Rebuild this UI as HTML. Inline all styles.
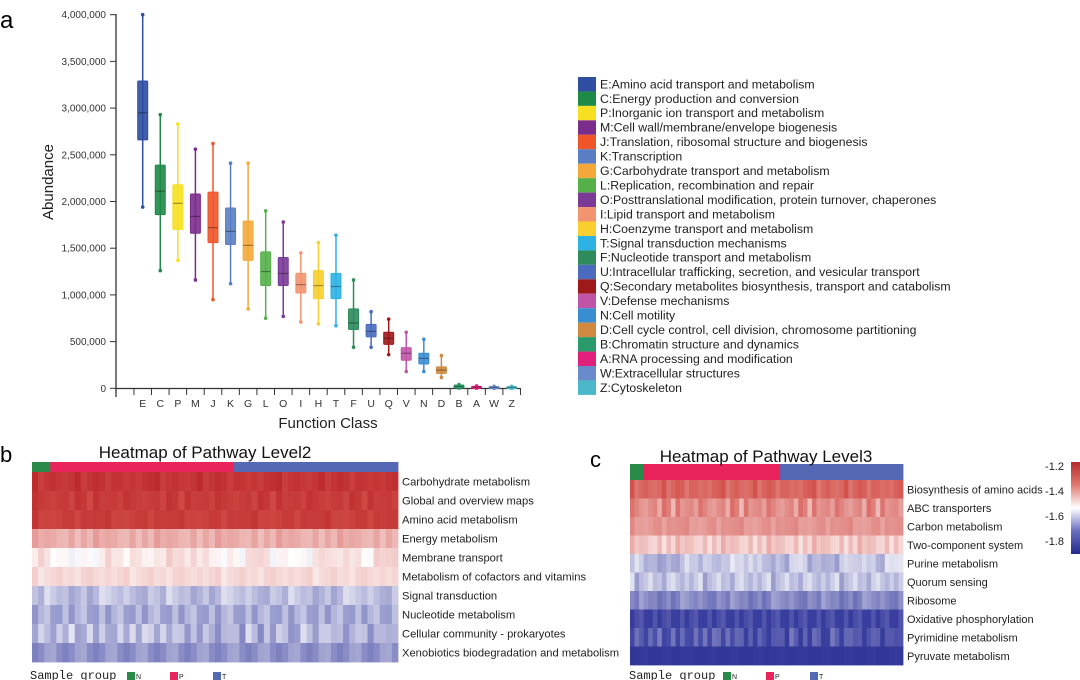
<!DOCTYPE html>
<html><head><meta charset="utf-8"><style>
html,body{margin:0;padding:0;background:#fff;}
svg{display:block;font-family:"Liberation Sans",sans-serif;}
</style></head><body>
<svg id="fig" width="1080" height="680" viewBox="0 0 1080 680">
<g id="panelA"></g>
<g id="legend"></g>
<g id="panelB"></g>
<g id="panelC"></g>
</svg>
<script>
// ---- Boxplot data ----
const classes = ["E","C","P","M","J","K","G","L","O","I","H","T","F","U","Q","V","N","D","B","A","W","Z"];
const whiskerHigh = [4000000,2930000,2830000,2560000,2620000,2410000,2410000,1900000,1780000,1450000,1560000,1640000,1160000,820000,740000,600000,525000,350000,40000,25000,22000,22000];
const q3Values = [3290000,2390000,2180000,2080000,2100000,1930000,1790000,1460000,1400000,1230000,1260000,1230000,850000,685000,600000,435000,375000,230000,35000,20000,18000,18000];
const medianValues = [2950000,2110000,1980000,1840000,1720000,1680000,1530000,1250000,1230000,1110000,1100000,1090000,700000,610000,535000,375000,320000,195000,20000,12000,10000,10000];
const q1Values = [2660000,1860000,1700000,1660000,1560000,1540000,1370000,1100000,1100000,1020000,960000,960000,630000,550000,470000,300000,260000,160000,5000,3000,3000,3000];
const whiskerLow = [1940000,1260000,1370000,1160000,950000,1120000,850000,750000,770000,710000,690000,670000,440000,440000,360000,180000,180000,115000,2000,1000,1000,1000];
const classColors = ["#2f4ea0","#1e8a48","#f7e022","#7b2d8c","#f0552a","#5a7ec4","#f4a83a","#55b04a","#7a3a96","#f39470","#f8cf2e","#2cb3e4","#2e8b5c","#4a6bbe","#9e1a1a","#c055a8","#3a8dd0","#d0893e","#2a9a6a","#e0207a","#6a8bcb","#4ab8c8"];
const legendLabels = ["E:Amino acid transport and metabolism","C:Energy production and conversion","P:Inorganic ion transport and metabolism","M:Cell wall/membrane/envelope biogenesis","J:Translation, ribosomal structure and biogenesis","K:Transcription","G:Carbohydrate transport and metabolism","L:Replication, recombination and repair","O:Posttranslational modification, protein turnover, chaperones","I:Lipid transport and metabolism","H:Coenzyme transport and metabolism","T:Signal transduction mechanisms","F:Nucleotide transport and metabolism","U:Intracellular trafficking, secretion, and vesicular transport","Q:Secondary metabolites biosynthesis, transport and catabolism","V:Defense mechanisms","N:Cell motility","D:Cell cycle control, cell division, chromosome partitioning","B:Chromatin structure and dynamics","A:RNA processing and modification","W:Extracellular structures","Z:Cytoskeleton"];
const yTicks = [0,500000,1000000,1500000,2000000,2500000,3000000,3500000,4000000];
const yTickLabels = ["0","500,000","1,000,000","1,500,000","2,000,000","2,500,000","3,000,000","3,500,000","4,000,000"];

// ---- Heatmap data ----
const l2Rows = ["Carbohydrate metabolism","Global and overview maps","Amino acid metabolism","Energy metabolism","Membrane transport","Metabolism of cofactors and vitamins","Signal transduction","Nucleotide metabolism","Cellular community - prokaryotes","Xenobiotics biodegradation and metabolism"];
const l2Base = [1.55,1.5,1.45,0.5,0.12,0.25,-0.55,-0.6,-0.55,-0.8];
const l2Amp = [0.25,0.2,0.2,0.2,0.25,0.1,0.35,0.35,0.35,0.4];
const l3Rows = ["Biosynthesis of amino acids","ABC transporters","Carbon metabolism","Two-component system","Purine metabolism","Quorum sensing","Ribosome","Oxidative phosphorylation","Pyrimidine metabolism","Pyruvate metabolism"];
const l3Base = [1.0,0.75,0.7,0.3,-0.45,-0.45,-0.95,-1.35,-1.25,-1.6];
const l3Amp = [0.2,0.3,0.15,0.3,0.3,0.3,0.3,0.25,0.3,0.15];
const sampleGroups = ["N","N","N","P","P","P","P","P","P","P","P","P","P","P","P","P","P","P","P","P","P","P","P","P","P","P","P","P","P","P","P","P","P","T","T","T","T","T","T","T","T","T","T","T","T","T","T","T","T","T","T","T","T","T","T","T","T","T","T","T"];
const colDeviation = [0.9,-0.8,1.0,-0.3,0.4,-0.6,0.2,0.7,-0.2,0.5,-0.9,0.3,0.1,-0.4,0.8,-0.1,0.6,-0.7,0.2,-0.3,0.4,0.9,-0.5,0.1,-0.2,0.6,-0.8,0.3,0.0,-0.4,0.7,-0.6,0.2,0.5,-0.1,0.8,-0.3,0.1,-0.7,0.4,0.6,-0.2,0.3,-0.9,0.5,0.0,-0.4,0.7,0.2,-0.5,0.3,-0.1,0.8,-0.6,0.4,0.1,-0.3,0.6,-0.2,0.2];
const colorbarTicks = [-1.2,-1.4,-1.6,-1.8];

const NS="http://www.w3.org/2000/svg";
function mk(tag,attrs,parent,text){const e=document.createElementNS(NS,tag);for(const k in attrs)e.setAttribute(k,attrs[k]);if(text!==undefined)e.textContent=text;parent.appendChild(e);return e;}

// ---- Panel A ----
const A=document.getElementById('panelA');
const yScale=v=>388.3-v/4000000*373.6;
const xScale=i=>142.7+i*17.57;
let t=mk('text',{x:0,y:28,'font-size':24},A,'a');

mk('line',{x1:116,y1:14,x2:116,y2:397,stroke:'#333','stroke-width':1.3},A);
mk('line',{x1:116,y1:388.5,x2:520,y2:388.5,stroke:'#333','stroke-width':1.3},A);
yTicks.forEach((v,i)=>{
  const y=yScale(v);
  mk('line',{x1:110,y1:y,x2:116,y2:y,stroke:'#333'},A);
  const l=mk('text',{x:106,y:y+3.5,'font-size':10,'text-anchor':'end',fill:'#333'},A,yTickLabels[i]);
  
});
for(let i=-1;i<classes.length;i++){const x=xScale(i)+8.8;mk('line',{x1:x,y1:388,x2:x,y2:395,stroke:'#333'},A);}
let yt=mk('text',{x:0,y:0,'font-size':15,'text-anchor':'middle',transform:'translate(53,182) rotate(-90)',fill:'#222'},A,'Abundance');

let xt=mk('text',{x:328,y:428,'font-size':15,'text-anchor':'middle',fill:'#222'},A,'Function Class');

classes.forEach((c,i)=>{
  const x=xScale(i),col=classColors[i];
  const g=mk('g',{},A);
  
  mk('line',{x1:x,y1:yScale(whiskerHigh[i]),x2:x,y2:yScale(whiskerLow[i]),stroke:col,'stroke-width':1.5},g);
  mk('circle',{cx:x,cy:yScale(whiskerHigh[i]),r:1.8,fill:col},g);
  mk('circle',{cx:x,cy:yScale(whiskerLow[i]),r:1.8,fill:col},g);
  const top=yScale(q3Values[i]),bot=yScale(q1Values[i]);
  mk('rect',{x:x-5,y:top,width:10,height:Math.max(bot-top,2),fill:col,'fill-opacity':0.9,stroke:col,'stroke-width':1,rx:1},g);
  const my=yScale(medianValues[i]);
  mk('line',{x1:x-5,y1:my,x2:x+5,y2:my,stroke:'#000','stroke-opacity':0.35,'stroke-width':1.2},g);
  const l=mk('text',{x:x,y:407,'font-size':10.5,'text-anchor':'middle',fill:'#333'},A,c);
  
});

// ---- Legend ----
const L=document.getElementById('legend');
legendLabels.forEach((s,i)=>{
  const y=77+i*14.45;
  const g=mk('g',{},L);
  
  mk('rect',{x:578,y:y,width:18,height:14.45,fill:classColors[i]},g);
  mk('text',{x:600,y:y+11.3,'font-size':12.3,fill:'#222'},g,s);
});

// ---- Heatmaps ----
function heatColor(v){
  v=Math.max(-2,Math.min(2,v));
  let r,gg,b;
  if(v>=0){const f2=Math.min(1,v/1.2);r=255-(255-212)*f2;gg=255-(255-80)*f2;b=255-(255-74)*f2; if(v>1.2){const f3=(v-1.2)/0.8;r=212-(212-180)*f3;gg=80-(80-30)*f3;b=74-(74-35)*f3;}}
  else{const f=Math.min(1,-v/1.4);r=255-(255-60)*f;gg=255-(255-64)*f;b=255-(255-160)*f; if(-v>1.4){const f3=(-v-1.4)/0.6;r=60-(60-35)*f3;gg=64-(64-40)*f3;b=160-(160-140)*f3;}}
  return `rgb(${r|0},${gg|0},${b|0})`;
}
const groupColors={N:'#2a8a4a',P:'#e8245a',T:'#5468b4'};
function heatmap(P,x0,x1,annY0,annY1,y1,rows,base,amp,labX,labSize){
  const n=sampleGroups.length,cw=(x1-x0)/n,rh=(y1-annY1)/rows.length;
  sampleGroups.forEach((g,c)=>{
    const r=mk('rect',{x:x0+c*cw,y:annY0,width:cw+0.4,height:annY1-annY0,fill:groupColors[g]},P);
    
  });
  rows.forEach((name,ri)=>{
    for(let c=0;c<n;c++){
      const v=base[ri]+colDeviation[(c*(ri+3)+ri*7)%n]*amp[ri];
      const r=mk('rect',{x:x0+c*cw,y:annY1+ri*rh,width:cw+0.4,height:rh+0.4,fill:heatColor(v)},P);
      
    }
    const l=mk('text',{x:labX,y:annY1+ri*rh+rh/2+4,'font-size':labSize,fill:'#222'},P,name);
    
  });
}
const B=document.getElementById('panelB');
heatmap(B,32,398,462,472,662,l2Rows,l2Base,l2Amp,402,11.2);
let bl=mk('text',{x:0,y:462,'font-size':22},B,'b');
let bt=mk('text',{x:205,y:458,'font-size':17,'text-anchor':'middle',fill:'#111'},B,'Heatmap of Pathway Level2');


const C=document.getElementById('panelC');
heatmap(C,630,903,464,480,665,l3Rows,l3Base,l3Amp,907,11);
let cl=mk('text',{x:590,y:467,'font-size':22},C,'c');
let ct=mk('text',{x:766,y:462,'font-size':17,'text-anchor':'middle',fill:'#111'},C,'Heatmap of Pathway Level3');

const defs=mk('defs',{},C);
const lg=mk('linearGradient',{id:'cb',x1:0,y1:0,x2:0,y2:1},defs);
[[0,'#b42a2a'],[0.25,'#e07a72'],[0.5,'#ffffff'],[0.75,'#6a6ec0'],[1,'#262a8c']].forEach(s=>mk('stop',{offset:s[0],'stop-color':s[1]},lg));
const cb=mk('rect',{x:1071,y:462,width:9,height:92,fill:'url(#cb)'},C);

const cbScale=v=>466+(-1.2-v)/0.6*75;
colorbarTicks.forEach(v=>{
  const l=mk('text',{x:1064,y:cbScale(v)+4,'font-size':11,'text-anchor':'end',fill:'#222'},C,v.toFixed(1));
  
});

function groupLegend(P,x,sq){
  const g=mk('g',{},P);
  
  mk('text',{x:x,y:679,'font-size':12,'font-family':'Liberation Mono, monospace',fill:'#222'},g,'Sample group');
  ['N','P','T'].forEach((k,i)=>{mk('rect',{x:sq[i],y:672,width:8,height:8,fill:groupColors[k]},g);mk('text',{x:sq[i]+9,y:679,'font-size':7,fill:'#222'},g,k);});
}
groupLegend(B,30,[127,170,213]);
groupLegend(C,629,[723,766,810]);
</script>
</body></html>
